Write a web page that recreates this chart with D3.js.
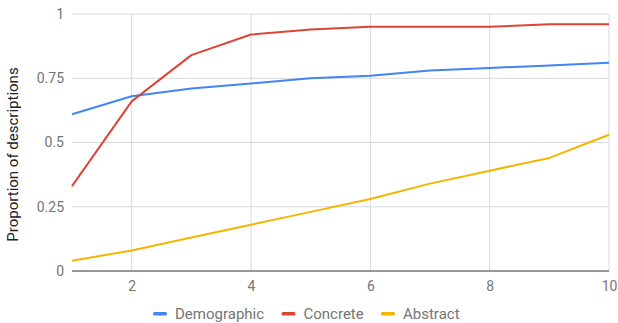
<!DOCTYPE html>
<html lang="en">
<head>
  <meta charset="UTF-8">
  <title>Proportion of descriptions</title>
  <script src="https://d3js.org/d3.v7.min.js"></script>
  <style>
    body { margin: 0; background: #fff; font-family: Roboto, Arial, sans-serif; }
    .tick text { fill: #757575; font-size: 14px; font-family: Roboto, Arial, sans-serif; }
  </style>
</head>
<body>
  <div id="chart"></div>
  <script>
    // data
    const xs = [1, 2, 3, 4, 5, 6, 7, 8, 9, 10];
    const demographic = [0.61, 0.68, 0.71, 0.73, 0.75, 0.76, 0.78, 0.79, 0.80, 0.81];
    const concrete = [0.33, 0.66, 0.84, 0.92, 0.94, 0.95, 0.95, 0.95, 0.96, 0.96];
    const abstract = [0.04, 0.08, 0.13, 0.18, 0.23, 0.28, 0.34, 0.39, 0.44, 0.53];
    const seriesNames = ["Demographic", "Concrete", "Abstract"];
    const seriesColors = ["#4285f4", "#db4437", "#f4b400"];
    const xTicks = [2, 4, 6, 8, 10];
    const yTicks = [0, 0.25, 0.5, 0.75, 1];
    const yTickLabels = ["0", "0.25", "0.5", "0.75", "1"];

    const W = 618, H = 323;
    const margin = { top: 14, right: 9, bottom: 52, left: 72 };
    const width = W - margin.left - margin.right,
          height = H - margin.top - margin.bottom;

    const svg = d3.select("#chart").append("svg")
      .attr("width", W).attr("height", H);
    const g = svg.append("g")
      .attr("transform", `translate(${margin.left},${margin.top})`);

    const x = d3.scaleLinear().domain([1, 10]).range([0, width]);
    const y = d3.scaleLinear().domain([0, 1]).range([height, 0]);

    // gridlines
    g.append("g").selectAll("line").data(yTicks.filter(d => d > 0)).join("line")
      .attr("x1", 0).attr("x2", width)
      .attr("y1", d => y(d)).attr("y2", d => y(d))
      .attr("stroke", "#d9d9d9").attr("stroke-width", 1);
    g.append("g").selectAll("line").data(xTicks).join("line")
      .attr("x1", d => x(d)).attr("x2", d => x(d))
      .attr("y1", 0).attr("y2", height)
      .attr("stroke", "#d9d9d9").attr("stroke-width", 1);

    // axes (labels only)
    const xAxis = g.append("g")
      .attr("transform", `translate(0,${height})`)
      .call(d3.axisBottom(x).tickValues(xTicks).tickSize(0).tickPadding(10));
    xAxis.select(".domain").remove();

    const yAxis = g.append("g")
      .call(d3.axisLeft(y).tickValues(yTicks).tickSize(0).tickPadding(8)
        .tickFormat((d, i) => yTickLabels[i]));
    yAxis.select(".domain").remove();

    // baseline
    g.append("line")
      .attr("x1", 0).attr("x2", width)
      .attr("y1", y(0)).attr("y2", y(0))
      .attr("stroke", "#333").attr("stroke-width", 1);

    // lines
    const allSeries = [demographic, concrete, abstract];
    const line = d3.line().x((d, i) => x(xs[i])).y(d => y(d));
    allSeries.forEach((s, k) => {
      g.append("path")
        .datum(s)
        .attr("fill", "none")
        .attr("stroke", seriesColors[k])
        .attr("stroke-width", 2)
        .attr("stroke-linejoin", "round")
        .attr("d", line);
    });

    // y axis title
    svg.append("text")
      .attr("transform", "translate(18,154.5) rotate(-90)")
      .attr("text-anchor", "middle")
      .style("font-size", "15px")
      .style("fill", "#222")
      .text("Proportion of descriptions");

    // legend
    const legendX = [153, 281.5, 381];
    const legend = svg.append("g");
    seriesNames.forEach((name, k) => {
      legend.append("rect")
        .attr("x", legendX[k]).attr("y", 312)
        .attr("width", 14).attr("height", 3.5)
        .attr("rx", 1.5)
        .attr("fill", seriesColors[k]);
      legend.append("text")
        .attr("x", legendX[k] + 22).attr("y", 319)
        .style("font-size", "15px")
        .style("fill", "#757575")
        .text(name);
    });
  </script>
</body>
</html>
